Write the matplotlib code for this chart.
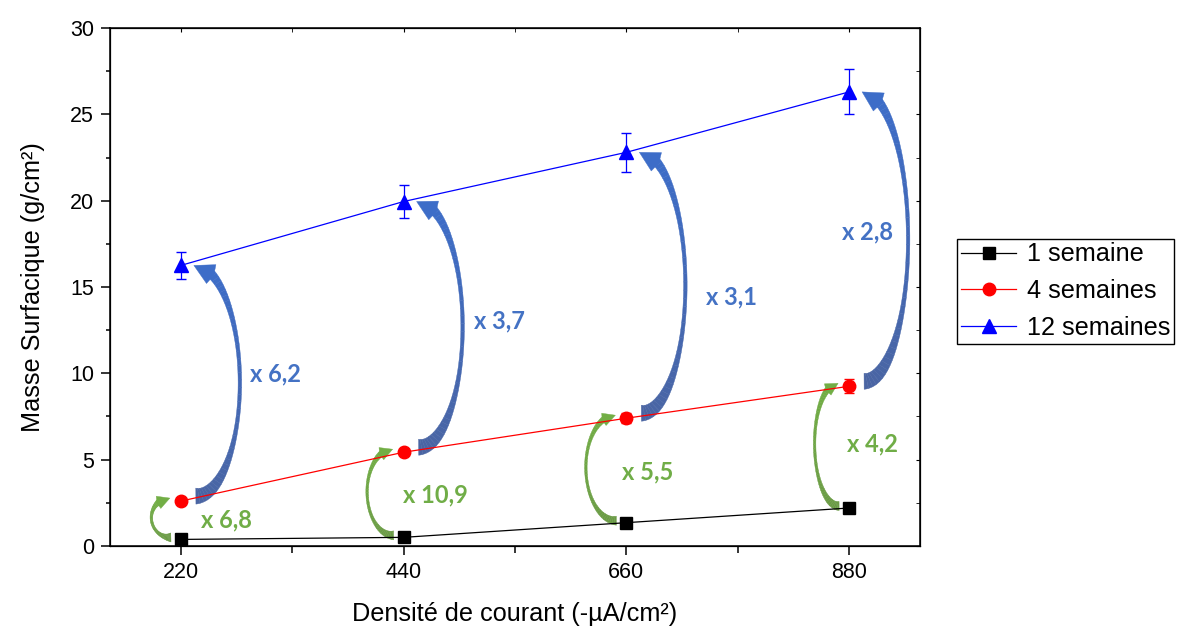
import numpy as np
import matplotlib
matplotlib.use('Agg')
import matplotlib.pyplot as plt
from matplotlib.collections import PolyCollection
from matplotlib.colors import to_rgb
from matplotlib.ticker import MultipleLocator

plt.rcParams['font.family'] = ['Liberation Sans', 'DejaVu Sans']

# donnees
densite = [220, 440, 660, 880]
s1 = [0.38, 0.5, 1.35, 2.2]
s1_err = [0.05, 0.05, 0.08, 0.1]
s4 = [2.6, 5.43, 7.4, 9.25]
s4_err = [0.1, 0.15, 0.3, 0.4]
s12 = [16.25, 19.95, 22.8, 26.3]
s12_err = [0.8, 0.95, 1.12, 1.3]

ratio_4_1 = ['x 6,8', 'x 10,9', 'x 5,5', 'x 4,2']
ratio_12_4 = ['x 6,2', 'x 3,7', 'x 3,1', 'x 2,8']

BLUE_TXT = '#4472C4'
GREEN_TXT = '#70AD47'
BLUE_ARROW = ('#4A65A3', '#3D6DC8')   # queue -> pointe
GREEN_ARROW = ('#6A9A45', '#72AE45')


def curved_arrow(ax, tail, tip, side, bulge, w_tail, w_mid, w_neck, head_w, head_len, colors):
    # fleche courbe facon Excel, construite en pixels puis remise en coordonnees data
    T = ax.transData
    Ti = T.inverted()
    p0 = T.transform(tail)
    p1 = T.transform(tip)
    c = (p0 + p1) / 2
    u = p1 - p0
    b = np.linalg.norm(u) / 2
    u = u / np.linalg.norm(u)
    n = np.array([u[1], -u[0]]) * side
    phi = np.linspace(-np.pi / 2, np.pi / 2, 400)
    pts = c + np.outer(np.sin(phi), u * b) + np.outer(np.cos(phi), n * bulge)
    d = np.linalg.norm(pts - p1, axis=1)
    k = np.where(d >= head_len)[0][-1]
    phi = phi[:k + 1]
    shaft = pts[:k + 1]
    tg = np.outer(np.cos(phi), u * b) - np.outer(np.sin(phi), n * bulge)
    tg = tg / np.linalg.norm(tg, axis=1)[:, None]
    nrm = np.column_stack([-tg[:, 1], tg[:, 0]])
    seg = np.linalg.norm(np.diff(shaft, axis=0), axis=1)
    s = np.concatenate([[0], np.cumsum(seg)])
    s = s / s[-1]
    w = np.where(s < 0.5,
                 w_mid + (w_tail - w_mid) * np.abs(1 - 2 * s) ** 3,
                 w_mid + (w_neck - w_mid) * np.abs(2 * s - 1) ** 3)
    left = shaft + nrm * (w / 2)[:, None]
    right = shaft - nrm * (w / 2)[:, None]

    c0 = np.array(to_rgb(colors[0]))
    c1 = np.array(to_rgb(colors[1]))
    quads = []
    cols = []
    step = 8
    for i in range(0, len(shaft) - 1, step):
        j = min(i + step, len(shaft) - 1)
        q = np.vstack([left[i:j + 1], right[i:j + 1][::-1]])
        quads.append(Ti.transform(q))
        cols.append(c0 + (c1 - c0) * s[i])
    base = shaft[-1]
    dv = (p1 - base) / np.linalg.norm(p1 - base)
    bn = np.array([-dv[1], dv[0]])
    back = base - dv * head_len * 0.15
    head = np.array([base + bn * head_w / 2, p1, base - bn * head_w / 2, back])
    quads.append(Ti.transform(head))
    cols.append(c1)
    pc = PolyCollection(quads, facecolors=cols, edgecolors=cols, linewidths=0.3, zorder=4)
    ax.add_collection(pc, autolim=False)


fig = plt.figure(figsize=(11.79, 6.28), dpi=100)
ax = fig.add_axes([0.0933, 0.1306, 0.6870, 0.8248])

ax.errorbar(densite, s1, yerr=s1_err, color='black', marker='s', markersize=8,
            lw=0.9, elinewidth=0.9, capsize=3.5, label='1 semaine', zorder=5)
ax.errorbar(densite, s4, yerr=s4_err, color='red', marker='o', markersize=9,
            lw=0.9, elinewidth=0.9, capsize=3.5, label='4 semaines', zorder=5)
ax.errorbar(densite, s12, yerr=s12_err, color='blue', marker='^', markersize=10,
            lw=0.9, elinewidth=0.9, capsize=3.5, label='12 semaines', zorder=5)

ax.set_xlim(150, 950)
ax.set_ylim(0, 30)
ax.set_xticks(densite)
ax.xaxis.set_minor_locator(MultipleLocator(110))
ax.yaxis.set_major_locator(MultipleLocator(5))
ax.yaxis.set_minor_locator(MultipleLocator(2.5))
ax.tick_params(which='both', direction='out', width=1.1, labelsize=15.5, pad=5)
ax.tick_params(which='major', length=6.5)
ax.tick_params(axis='y', which='minor', length=3)
ax.tick_params(axis='x', which='minor', length=5)
for sp in ax.spines.values():
    sp.set_linewidth(1.1)

# ticks interieurs haut / droite
axt = ax.twiny()
axt.set_xlim(ax.get_xlim())
axt.set_xticks(densite)
axt.xaxis.set_minor_locator(MultipleLocator(110))
axt.tick_params(which='both', direction='in', length=3, labeltop=False)
axr = ax.twinx()
axr.set_ylim(ax.get_ylim())
axr.yaxis.set_major_locator(MultipleLocator(5))
axr.yaxis.set_minor_locator(MultipleLocator(2.5))
axr.tick_params(which='both', direction='in', length=3, labelright=False)

ax.set_xlabel('Densité de courant (-µA/cm²)', fontsize=18.2, labelpad=14)
ax.set_ylabel('Masse Surfacique (g/cm²)', fontsize=18.2, labelpad=18)

fig.canvas.draw()

px = 0.72  # 1 px en points
green_bulge = [19, 26, 30, 24]
blue_lbl_off = [(95, 9), (96, 6), (105, -12), (18, 7)]
green_lbl_off = [(46, 0), (32, 0), (21, -1), (23, 3)]

T = ax.transData
Ti = T.inverted()
for i, x in enumerate(densite):
    r = T.transform((x, s4[i]))
    bl = T.transform((x, s12[i]))
    k = T.transform((x, s1[i]))
    # bleu : 4 -> 12 semaines
    curved_arrow(ax, Ti.transform(r + [15, 5]), Ti.transform(bl + [13, 0]),
                 1, 45, 16, 3.5, 9, 21, 19, BLUE_ARROW)
    # vert : 1 -> 4 semaines
    curved_arrow(ax, Ti.transform(k + [-10, 2]), Ti.transform(r + [-11, 3]),
                 -1, green_bulge[i], 9, 2.5, 6, 13, 12, GREEN_ARROW)

    ax.annotate(ratio_12_4[i], xy=(x, (s4[i] + s12[i]) / 2),
                xytext=(blue_lbl_off[i][0] * px, blue_lbl_off[i][1] * px),
                textcoords='offset points', ha='center', va='center',
                fontsize=17, fontweight='bold', color=BLUE_TXT,
                family=['Lato', 'DejaVu Sans'])
    ax.annotate(ratio_4_1[i], xy=(x, (s1[i] + s4[i]) / 2),
                xytext=(green_lbl_off[i][0] * px, green_lbl_off[i][1] * px),
                textcoords='offset points', ha='center', va='center',
                fontsize=17, fontweight='bold', color=GREEN_TXT,
                family=['Lato', 'DejaVu Sans'])

h, l = ax.get_legend_handles_labels()
h = [hh[0] for hh in h]
fig.legend(h, l, loc='upper left', bbox_to_anchor=(0.8117, 0.62),
           borderaxespad=0, fontsize=18.2, frameon=True, fancybox=False,
           edgecolor='black', framealpha=1, handlelength=2.2,
           handletextpad=0.43, labelspacing=0.5, borderpad=0.15)

fig.savefig('out.png', dpi=100)
